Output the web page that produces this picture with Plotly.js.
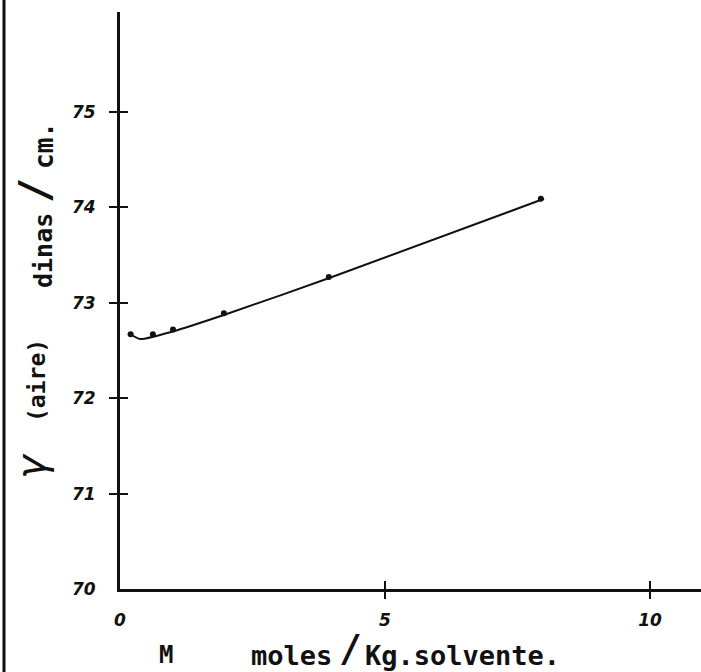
<!DOCTYPE html>
<html>
<head>
<meta charset="utf-8">
<script src="https://cdn.plot.ly/plotly-3.0.1.min.js"></script>
<style>
  html, body { margin: 0; padding: 0; background: #ffffff; }
  #chart { width: 701px; height: 672px; }
</style>
</head>
<body>
<div id="chart"></div>
<script>
// Measured points: surface tension against air vs. molality
const molality = [0.2, 0.62, 1.0, 1.96, 3.94, 7.94];
const tension = [72.67, 72.67, 72.72, 72.89, 73.27, 74.09];

// Hand-fitted curve through the measurements
const curveM = [0.2, 0.38, 1.0, 2.0, 4.0, 8.0];
const curveT = [72.67, 72.62, 72.70, 72.88, 73.27, 74.09];

// Axis ticks and labels
const yTickVals = [70, 71, 72, 73, 74, 75];
const yTickMarks = [71, 72, 73, 74, 75];
const xTickVals = [0, 5, 10];
const xTickMarks = [5, 10];

const W = 701, H = 672;
const M = { l: 120, r: 0, t: 12, b: 83 };
const plotW = W - M.l - M.r;
const plotH = H - M.t - M.b;
const xRange = [0, plotW / 53.0];
const yRange = [70, 70 + plotH / 95.4];

// pixel position -> paper coordinates
const px = x => (x - M.l) / plotW;
const py = y => (H - M.b - y) / plotH;

const ink = '#111111';
const labelFont = { family: 'DejaVu Sans', size: 17, color: ink, weight: 'bold', style: 'italic' };
const pen = (size) => ({ family: 'DejaVu Sans Mono', size: size, color: ink, weight: 'bold' });

const traces = [
  {
    x: curveM, y: curveT, type: 'scatter', mode: 'lines',
    line: { color: ink, width: 2, shape: 'spline', smoothing: 0.6 },
    hoverinfo: 'skip', showlegend: false
  },
  {
    x: molality, y: tension, type: 'scatter', mode: 'markers',
    marker: { color: ink, size: 6 },
    showlegend: false
  },
  // carriers for the tick-mark overlay axes
  { x: [0], y: [70], xaxis: 'x2', yaxis: 'y2', mode: 'markers', marker: { opacity: 0 }, hoverinfo: 'skip', showlegend: false },
  { x: [0], y: [70], xaxis: 'x3', yaxis: 'y3', mode: 'markers', marker: { opacity: 0 }, hoverinfo: 'skip', showlegend: false }
];

const baseX = { range: xRange, showgrid: false, zeroline: false, fixedrange: true };
const baseY = { range: yRange, showgrid: false, zeroline: false, fixedrange: true };

function note(text, x, y, font, opts) {
  return Object.assign({
    text: text, xref: 'paper', yref: 'paper', x: px(x), y: py(y),
    xanchor: 'center', yanchor: 'middle', showarrow: false, font: font
  }, opts || {});
}

const layout = {
  width: W, height: H,
  margin: M,
  paper_bgcolor: '#ffffff',
  plot_bgcolor: '#ffffff',
  xaxis: Object.assign({}, baseX, {
    showline: true, linecolor: ink, linewidth: 3,
    tickmode: 'array', tickvals: xTickVals, ticktext: ['0', '5', '10'],
    ticks: '', ticklabelstandoff: 14,
    tickfont: labelFont
  }),
  yaxis: Object.assign({}, baseY, {
    showline: true, linecolor: ink, linewidth: 3,
    tickmode: 'array', tickvals: yTickVals, ticktext: yTickVals.map(String),
    ticks: '', ticklabelstandoff: 18,
    tickfont: labelFont
  }),
  // tick marks crossing the axes: outer half
  xaxis2: Object.assign({}, baseX, {
    overlaying: 'x', anchor: 'y2', side: 'bottom',
    tickmode: 'array', tickvals: xTickMarks, ticks: 'outside',
    ticklen: 9, tickwidth: 2, tickcolor: ink, showticklabels: false
  }),
  yaxis2: Object.assign({}, baseY, {
    overlaying: 'y', anchor: 'x2', side: 'left',
    tickmode: 'array', tickvals: yTickMarks, ticks: 'outside',
    ticklen: 10, tickwidth: 2, tickcolor: ink, showticklabels: false
  }),
  // tick marks crossing the axes: inner half
  xaxis3: Object.assign({}, baseX, {
    overlaying: 'x', anchor: 'y3', side: 'bottom',
    tickmode: 'array', tickvals: xTickMarks, ticks: 'inside',
    ticklen: 8, tickwidth: 2, tickcolor: ink, showticklabels: false
  }),
  yaxis3: Object.assign({}, baseY, {
    overlaying: 'y', anchor: 'x3', side: 'left',
    tickmode: 'array', tickvals: yTickMarks, ticks: 'inside',
    ticklen: 8, tickwidth: 2, tickcolor: ink, showticklabels: false
  }),
  shapes: [
    // dark edge of the sheet on the left
    {
      type: 'line', xref: 'paper', yref: 'paper',
      x0: px(4), x1: px(4), y0: py(H), y1: py(0),
      line: { color: ink, width: 3 }
    }
  ],
  annotations: [
    // vertical title: γ(aire)  dinas / cm.
    note('γ', 31, 466, { family: 'DejaVu Sans', size: 40, color: ink, style: 'italic' }, { textangle: -90 }),
    note('(aire)', 37, 381, pen(23), { textangle: -90 }),
    note('dinas', 44, 251, pen(25), { textangle: -90 }),
    note('/', 34, 191, pen(42), { textangle: -90 }),
    note('cm.', 44, 146, pen(26), { textangle: -90 }),
    // horizontal title: M   moles / Kg.solvente.
    note('M', 166, 655, pen(24)),
    note('moles', 291, 655, pen(27)),
    note('/', 350, 648, pen(38)),
    note('Kg.solvente.', 462, 655, pen(27))
  ]
};

Plotly.newPlot('chart', traces, layout, { staticPlot: true, displayModeBar: false });
</script>
</body>
</html>
